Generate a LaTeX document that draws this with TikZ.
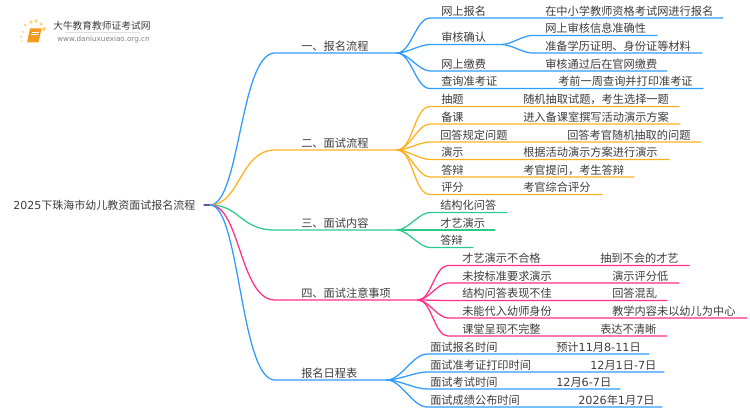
\documentclass[tikz,border=0pt]{standalone}
\usepackage{fontspec}
\setmainfont{Noto Sans CJK SC}
\newfontfamily\digitfont{DejaVu Sans}
\newcommand{\dg}[1]{{\digitfont #1}}
\definecolor{bluebr}{HTML}{2F9BFF}
\definecolor{orangebr}{HTML}{FFB020}
\definecolor{greenbr}{HTML}{2CCB8C}
\definecolor{pinkbr}{HTML}{FF2E86}
\definecolor{txtgray}{HTML}{3C3C3C}
\definecolor{sundot}{HTML}{FFD27A}
\definecolor{bookcol}{HTML}{F59A1B}
\tikzset{lab/.style={anchor=base west,inner sep=0pt,text=txtgray,font=\fontsize{8.4pt}{10pt}\selectfont},
link/.style={line width=0.95pt,line cap=round}}
\begin{document}
\begin{tikzpicture}[x=0.75pt,y=-0.75pt]
\useasboundingbox (0,0) rectangle (750,410);

% logo
\foreach \i/\j/\r in {21/37/1,22/41/.8,23/32/1.2,25/25/1.5,31/22/1.9,36/21/1.9,41/24/1.9,44/29/2}{
\fill[sundot] (\i,\j) circle (\r);
}
\fill[bookcol] (30,28.5) -- (41.5,28.5) -- (38.5,42.5) -- (27,42.5) -- cycle;
\draw[white,line width=.4pt] (32,32) -- (38.5,32) (31.2,34.5) -- (37.8,34.5);
\node[lab,font=\fontsize{7.3pt}{10pt}\selectfont] (logotitle) at (53,30) {大牛教育教师证考试网};
\node[lab,text=gray,font=\fontsize{5.4pt}{6pt}\selectfont\digitfont] (logourl) at (57,41.5) {www.daniuxuexiao.org.cn};
\draw[gray!25,line width=.4pt] (logotitle.south west) ++(12,1.5) -- ++(75,0);

% root
\node[lab,font=\fontsize{8.25pt}{10pt}\selectfont] (root) at (13,209.5) {\dg{2025}下珠海市幼儿教资面试报名流程};
\coordinate (hub) at (210,205);
\draw[link,gray!70!blue] (204,205) -- (hub);

% main branches
\foreach \name/\col/\y/\xe/\lab in {
one/bluebr/53/397/一、报名流程,
two/orangebr/150/397/二、面试流程,
three/greenbr/230/397/三、面试内容,
four/pinkbr/300/418/四、面试注意事项,
five/bluebr/380/387/报名日程表}{
\coordinate (\name s) at (275,\y);
\coordinate (\name) at (\xe,\y);
\draw[link,\col] (hub) .. controls (240,205) and (240,\y) .. (\name s) -- (\name);
\node[lab] (\name t) at (301,\y-2.6) {\lab};
}

% leaves
\foreach \from/\name/\col/\y/\xs/\xe/\xt/\lab/\xv/\val in {
one/oa/bluebr/18/430/723/441/网上报名/545/在中小学教师资格考试网进行报名,
one/oc/bluebr/71/430/667/441/网上缴费/545/审核通过后在官网缴费,
one/od/bluebr/88.5/430/703/441/查询准考证/558/考前一周查询并打印准考证,
two/ta/orangebr/106.5/430/679/441/抽题/523/随机抽取试题，考生选择一题,
two/tb/orangebr/124/430/680/441/备课/523/进入备课室撰写活动演示方案,
two/tc/orangebr/142/430/701/440/回答规定问题/567/回答考官随机抽取的问题,
two/td/orangebr/159.5/430/669/441/演示/523/根据活动演示方案进行演示,
two/te/orangebr/177/430/634/441/答辩/523/考官提问，考生答辩,
two/tf/orangebr/194.5/430/602/441/评分/523/考官综合评分,
three/ha/greenbr/212.5/430/507/440/结构化问答//,
three/hb/greenbr/230/430/495/440/才艺演示//,
three/hc/greenbr/247.5/430/473/440/答辩//,
four/fa/pinkbr/265.5/448/689/462/才艺演示不合格/600/抽到不会的才艺,
four/fb/pinkbr/283/448/679/462/未按标准要求演示/612/演示评分低,
four/fc/pinkbr/300.5/448/667/462/结构问答表现不佳/612/回答混乱,
four/fd/pinkbr/318/448/747/462/未能代入幼师身份/612/教学内容未以幼儿为中心,
four/fe/pinkbr/336/448/667/462/课堂呈现不完整/600/表达不清晰,
five/va/bluebr/354/427/649/430/面试报名时间/556/预计\dg{11}月\dg{8-11}日,
five/vb/bluebr/372/427/664/430/面试准考证打印时间/590/\dg{12}月\dg{1}日\dg{-7}日,
five/vc/bluebr/389/427/620/430/面试考试时间/556/\dg{12}月\dg{6-7}日,
five/vd/bluebr/407/427/662/430/面试成绩公布时间/578/\dg{2026}年\dg{1}月\dg{7}日}{
\coordinate (\name s) at (\xs,\y);
\coordinate (\name) at (\xe,\y);
\draw[link,\col] (\from) to[out=0,in=180,looseness=.75] (\name s) -- (\name);
\node[lab] (\name t) at (\xt,\y-2.6) {\lab};
\node[lab] (\name v) at (\xv,\y-2.6) {\val};
}

% second check level
\coordinate (ob) at (502,44.5);
\coordinate (obs) at (430,44.5);
\draw[link,bluebr] (one) to[out=0,in=180,looseness=.75] (obs) -- (ob);
\node[lab] (obt) at (441,41.9) {审核确认};
\foreach \name/\y/\xe/\val in {oba/35.5/657/网上审核信息准确性,obb/53/702/准备学历证明、身份证等材料}{
\coordinate (\name s) at (532,\y);
\coordinate (\name) at (\xe,\y);
\draw[link,bluebr] (ob) to[out=0,in=180,looseness=.75] (\name s) -- (\name);
\node[lab] (\name t) at (545,\y-2.6) {\val};
}
\end{tikzpicture}
\end{document}
